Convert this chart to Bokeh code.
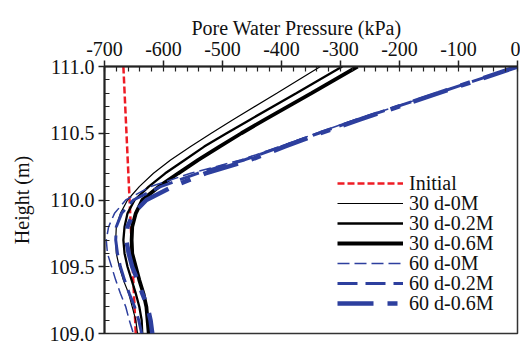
from bokeh.plotting import figure
from bokeh.models import Range1d, SingleIntervalTicker, NumeralTickFormatter, Legend, LegendItem
from bokeh.embed import file_html
from bokeh.resources import INLINE

heights = [111.0, 110.8, 110.6, 110.5, 110.4, 110.3, 110.2, 110.1, 110.0, 109.9,
           109.8, 109.7, 109.6, 109.5, 109.4, 109.3, 109.2, 109.1, 109.0]

initial_h = [111.0, 109.0]
initial_p = [-668, -647]

d30_0M = [-334, -408, -483, -519, -554, -588, -617, -641, -661, -673,
          -680, -681, -680, -675, -668, -659, -653, -647, -644]
d30_02M = [-297, -375, -454, -493, -531, -564, -597, -625, -649, -661,
           -666, -668, -666, -661, -654, -647, -641, -637, -636]
d30_06M = [-271, -349, -429, -468, -505, -541, -575, -608, -636, -647,
           -653, -654, -653, -647, -641, -634, -629, -627, -625]
d60_0M = [0, -137, -276, -341, -403, -469, -554, -622, -664, -683,
          -693, -697, -695, -688, -681, -673, -664, -658, -651]
d60_02M = [0, -136, -273, -337, -400, -463, -542, -605, -651, -671,
           -680, -681, -678, -673, -666, -658, -649, -642, -637]
d60_06M = [0, -134, -269, -334, -395, -453, -529, -585, -629, -651,
           -661, -663, -659, -653, -644, -636, -627, -622, -619]

series_labels = ["Initial", "30 d-0M", "30 d-0.2M", "30 d-0.6M",
                 "60 d-0M", "60 d-0.2M", "60 d-0.6M"]
x_label = "Pore Water Pressure (kPa)"
y_label = "Height (m)"

FONT = "Liberation Serif"
RED = "#ee1c25"
BLUE = "#2d3f9e"

p = figure(width=520, height=343, output_backend="svg", toolbar_location=None,
           x_range=Range1d(-700, 0), y_range=Range1d(109.0, 111.0),
           x_axis_location="above", min_border_left=104, min_border_right=3,
           min_border_top=66, min_border_bottom=10)
p.grid.visible = False
p.outline_line_color = "#333333"
p.outline_line_width = 1.5

# x-axis title drawn as the figure title (slightly left of centre, as in the original)
p.title.text = x_label
p.title.align = "left"
p.title.offset = 87
p.title.text_font = FONT
p.title.text_font_size = "20px"
p.title.text_font_style = "normal"
p.title.text_color = "#111111"
p.title.standoff = 0

xa = p.xaxis[0]
xa.ticker = SingleIntervalTicker(interval=100, num_minor_ticks=5)
xa.formatter = NumeralTickFormatter(format="0")
ya = p.yaxis[0]
ya.ticker = SingleIntervalTicker(interval=0.5, num_minor_ticks=5)
ya.formatter = NumeralTickFormatter(format="0.0")
ya.axis_label = y_label
for ax in (xa, ya):
    ax.axis_line_width = 2
    ax.axis_line_color = "#222222"
    ax.major_tick_out = 6
    ax.major_tick_in = 0
    ax.minor_tick_in = 5
    ax.minor_tick_out = 0
    ax.major_tick_line_width = 1.5
    ax.minor_tick_line_width = 1.2
    ax.major_tick_line_color = "#222222"
    ax.minor_tick_line_color = "#222222"
    ax.major_label_text_font = FONT
    ax.major_label_text_font_size = "20px"
    ax.major_label_text_color = "#111111"
    ax.axis_label_text_font = FONT
    ax.axis_label_text_font_size = "20px"
    ax.axis_label_text_font_style = "normal"
    ax.axis_label_text_color = "#111111"
xa.major_label_standoff = 5
ya.major_label_standoff = 4
ya.axis_label_standoff = 14

r_init = p.line(initial_p, initial_h, line_color=RED, line_width=2.5, line_dash="7 3")
r1 = p.line(d30_0M, heights, line_color="black", line_width=1.2)
r2 = p.line(d30_02M, heights, line_color="black", line_width=2.3)
r3 = p.line(d30_06M, heights, line_color="black", line_width=3.8)
r4 = p.line(d60_0M, heights, line_color=BLUE, line_width=1.5, line_dash="12 5")
r5 = p.line(d60_02M, heights, line_color=BLUE, line_width=3, line_dash="20 8")
r6 = p.line(d60_06M, heights, line_color=BLUE, line_width=4.5, line_dash="36 14 10 14")
renderers = [r_init, r1, r2, r3, r4, r5, r6]

# one single-row legend per entry so that rows sit 20 px apart
for i, (lab, r) in enumerate(zip(series_labels, renderers)):
    row_center = 117 + 20 * i          # distance of row centre from the frame top
    frame_h = 333 - 66
    leg = Legend(items=[LegendItem(label=lab, renderers=[r])],
                 location=(233, frame_h - row_center - 11.5))
    leg.label_text_font = FONT
    leg.label_text_font_size = "20px"
    leg.label_text_color = "#111111"
    leg.label_height = 20
    leg.glyph_height = 20
    leg.glyph_width = 66
    leg.label_standoff = 6
    leg.spacing = 0
    leg.padding = 0
    leg.margin = 0
    leg.border_line_alpha = 0
    leg.background_fill_alpha = 0
    p.add_layout(leg, "center")

open("out.html", "w").write(file_html(p, INLINE))
